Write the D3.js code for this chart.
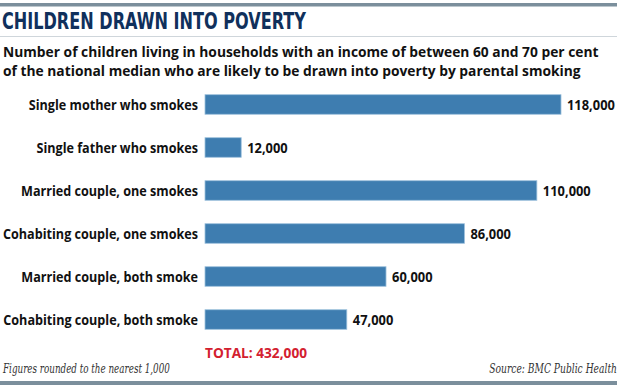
<!DOCTYPE html>
<html>
<head>
<meta charset="utf-8">
<script src="https://cdn.jsdelivr.net/npm/d3@7"></script>
<style>
  body { margin: 0; background: #fff; }
  svg { display: block; }
  .title { font-family: 'Liberation Sans Narrow', 'DejaVu Sans Condensed', sans-serif; font-weight: bold; fill: #10305c; }
  .sub { font-family: 'Open Sans', sans-serif; font-weight: bold; fill: #111; }
  .cat { font-family: 'Open Sans', sans-serif; font-weight: bold; fill: #111; }
  .val { font-family: 'Open Sans', sans-serif; font-weight: bold; fill: #111; }
  .total { font-family: 'Open Sans', sans-serif; font-weight: bold; fill: #d3202f; }
  .foot { font-family: 'DejaVu Serif', serif; font-style: italic; fill: #333; }
</style>
</head>
<body>
<div id="chart"></div>
<script>
const categories = [
    'Single mother who smokes',
    'Single father who smokes',
    'Married couple, one smokes',
    'Cohabiting couple, one smokes',
    'Married couple, both smoke',
    'Cohabiting couple, both smoke'
];
const values = [118000, 12000, 110000, 86000, 60000, 47000];
const totalLabel = 'TOTAL: 432,000';

const width = 620;
const height = 385;
const x0 = 205;

const fmt = d3.format(',');

// squeeze a text selection horizontally by factor k
const squeeze = (sel, k) => sel.each(function() {
    const len = this.getComputedTextLength();
    d3.select(this)
        .attr('textLength', len * k)
        .attr('lengthAdjust', 'spacingAndGlyphs');
});

// put a text at (x, y) and scale it so it is w pixels wide
const fitText = (sel, x, y, w, anchor) => sel.each(function() {
    const len = this.getComputedTextLength();
    const k = w / len;
    d3.select(this)
        .attr('x', 0).attr('y', 0)
        .attr('text-anchor', anchor || 'start')
        .attr('transform', `translate(${x},${y}) scale(${k},1)`);
});

const svg = d3.select('#chart')
    .append('svg')
        .attr('width', width)
        .attr('height', height);

// top and bottom rules
svg.append('rect')
    .attr('x', 0).attr('y', 3)
    .attr('width', 617).attr('height', 3.5)
    .attr('fill', '#7b8f9c');

svg.append('rect')
    .attr('x', 0).attr('y', 381)
    .attr('width', 617).attr('height', 4)
    .attr('fill', '#7b8f9c');

svg.append('line')
    .attr('x1', 0).attr('x2', 617)
    .attr('y1', 36.5).attr('y2', 36.5)
    .attr('stroke', '#cfd6db')
    .attr('stroke-width', 1);

svg.append('text')
    .classed('title', true)
    .attr('font-size', 23.5)
    .text('CHILDREN DRAWN INTO POVERTY')
    .call(fitText, 2, 29, 304);

const subLines = [
    'Number of children living in households with an income of between 60 and 70 per cent',
    'of the national median who are likely to be drawn into poverty by parental smoking'
];

const subs = svg.selectAll('.sub')
    .data(subLines)
    .join('text')
        .classed('sub', true)
        .attr('font-size', 15)
        .text(d => d);

const subLong = d3.max(subs.nodes(), n => n.getComputedTextLength());
subs.each(function(d, i) {
    const len = this.getComputedTextLength();
    d3.select(this).call(fitText, 3, 57 + i * 19, len * 596 / subLong);
});

const xScale = d3.scaleLinear()
    .domain([0, 118000])
    .range([x0, 561]);

const yScale = d3.scaleBand()
    .domain(categories)
    .range([83, 341])
    .paddingInner(0.545)
    .paddingOuter(0.272);

svg.selectAll('.bar')
    .data(values)
    .join('rect')
        .classed('bar', true)
        .attr('x', x0)
        .attr('y', (d, i) => yScale(categories[i]))
        .attr('width', d => xScale(d) - x0)
        .attr('height', yScale.bandwidth())
        .attr('fill', '#3e7db0')
        .attr('stroke', '#9cc0dc')
        .attr('stroke-width', 0.8);

const cats = svg.selectAll('.cat')
    .data(categories)
    .join('text')
        .classed('cat', true)
        .attr('x', 198)
        .attr('y', d => yScale(d) + yScale.bandwidth() / 2)
        .attr('dy', '0.36em')
        .attr('text-anchor', 'end')
        .attr('font-size', 14)
        .text(d => d);

const longest = d3.max(cats.nodes(), n => n.getComputedTextLength());
squeeze(cats, 195 / longest);

const vals = svg.selectAll('.val')
    .data(values)
    .join('text')
        .classed('val', true)
        .attr('x', d => xScale(d) + 6)
        .attr('y', (d, i) => yScale(categories[i]) + yScale.bandwidth() / 2)
        .attr('dy', '0.36em')
        .attr('font-size', 14)
        .text(d => fmt(d));

squeeze(vals, 0.92);

svg.append('text')
    .classed('total', true)
    .attr('x', 205)
    .attr('y', 357.5)
    .attr('font-size', 14)
    .attr('textLength', 102)
    .attr('lengthAdjust', 'spacingAndGlyphs')
    .text(totalLabel);

svg.append('text')
    .classed('foot', true)
    .attr('font-size', 12)
    .text('Figures rounded to the nearest 1,000')
    .call(fitText, 3, 373, 167);

svg.append('text')
    .classed('foot', true)
    .attr('font-size', 12)
    .text('Source: BMC Public Health')
    .call(fitText, 617, 373, 128, 'end');
</script>
</body>
</html>
